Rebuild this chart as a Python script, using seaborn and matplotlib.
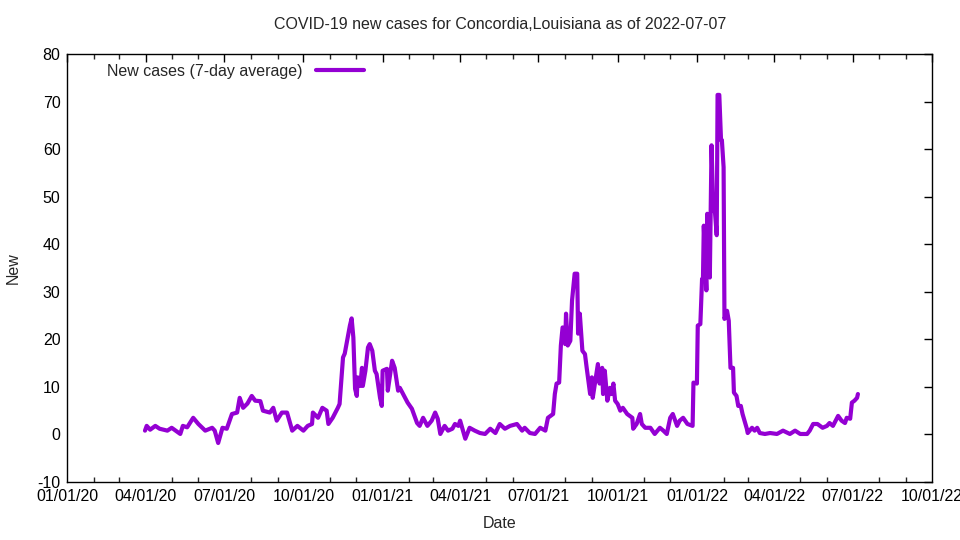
import numpy as np
import pandas as pd
import seaborn as sns
import matplotlib.pyplot as plt
import matplotlib.dates as mdates

# days since 2020-01-01 and the 7-day average
days = [90, 92, 96, 102, 107, 116, 121, 131, 134, 139, 146, 152, 160, 168, 171, 175,
        180, 185, 191, 197, 200, 204, 209, 214, 218, 224, 227, 235, 239, 243, 249, 255,
        261, 267, 274, 279, 284, 285, 291, 296, 301, 303, 308, 314, 316, 320, 322, 328,
        330, 332, 334, 336, 337, 340, 342, 343, 346, 349, 351, 354, 357, 359, 363, 365,
        366, 371, 372, 375, 377, 380, 384, 386, 392, 395, 400, 406, 409, 413, 418, 423,
        427, 430, 433, 438, 442, 447, 450, 454, 456, 462, 467, 473, 479, 485, 491, 497,
        502, 508, 514, 522, 528, 531, 537, 543, 549, 555, 558, 564, 566, 568, 571, 573,
        575, 578, 579, 581, 584, 586, 589, 592, 593, 595, 598, 601, 603, 607, 609, 610,
        613, 616, 618, 621, 622, 624, 627, 630, 632, 634, 636, 639, 642, 645, 650, 656,
        657, 661, 665, 667, 671, 677, 682, 688, 692, 696, 700, 703, 708, 711, 715, 720,
        726, 727, 731, 732, 735, 737, 738, 739, 742, 743, 746, 748, 750, 752, 754, 755,
        757, 759, 760, 762, 763, 766, 768, 770, 773, 774, 777, 779, 782, 784, 787, 789,
        790, 795, 798, 801, 804, 810, 816, 824, 831, 839, 845, 851, 859, 862, 866, 871,
        877, 882, 885, 889, 895, 899, 903, 905, 909, 911, 914, 917, 918]
cases = [0.8, 1.8, 1.0, 1.8, 1.2, 0.8, 1.4, 0.1, 1.8, 1.5, 3.5, 2.2, 0.8, 1.4, 0.8, -1.8,
         1.4, 1.2, 4.3, 4.6, 7.7, 5.6, 6.5, 8.1, 7.1, 7.0, 5.0, 4.6, 5.6, 2.9, 4.6, 4.6,
         0.8, 1.8, 0.8, 1.8, 2.2, 4.6, 3.5, 5.6, 5.0, 2.2, 3.5, 5.6, 6.4, 16.2, 17.0, 22.9,
         24.4, 20.4, 9.6, 8.1, 12.0, 10.2, 14.0, 10.2, 13.4, 18.3, 19.0, 17.6, 13.4, 12.7, 7.7, 6.0,
         13.4, 13.8, 9.2, 13.0, 15.5, 14.0, 9.2, 9.8, 7.7, 6.7, 5.4, 2.4, 1.8, 3.5, 1.8, 2.9,
         4.6, 3.3, 0.1, 1.8, 0.8, 1.2, 2.2, 1.8, 2.9, -0.9, 1.4, 0.8, 0.3, 0.1, 1.2, 0.3,
         2.2, 1.2, 1.8, 2.2, 0.8, 1.4, 0.3, 0.1, 1.4, 0.8, 3.5, 4.3, 8.5, 10.7, 10.9, 18.7,
         22.5, 19.0, 25.4, 18.7, 19.7, 28.2, 33.8, 33.8, 21.2, 25.4, 17.6, 16.9, 14.0, 8.5, 12.0, 7.7,
         11.3, 14.8, 10.7, 14.0, 8.5, 13.4, 7.1, 9.8, 8.5, 10.7, 7.1, 6.4, 5.0, 5.6, 4.3, 3.5,
         1.2, 2.2, 4.3, 2.2, 1.4, 1.4, 0.1, 1.4, 0.8, 0.1, 3.5, 4.3, 1.8, 2.9, 3.5, 2.2,
         1.8, 10.9, 10.7, 22.9, 23.2, 32.7, 32.3, 43.9, 30.3, 46.4, 33.0, 60.8, 47.1, 46.7, 41.9, 71.4,
         71.4, 61.9, 61.9, 56.2, 24.3, 26.0, 23.9, 14.0, 14.0, 8.8, 8.1, 6.0, 6.0, 4.3, 2.4, 1.2,
         0.3, 1.4, 0.8, 1.4, 0.3, 0.1, 0.3, 0.1, 0.8, 0.1, 0.8, 0.1, 0.1, 0.8, 2.2, 2.2,
         1.4, 1.8, 2.4, 1.8, 3.9, 2.9, 2.4, 3.5, 3.3, 6.7, 7.1, 7.7, 8.5]

x_ticks = pd.date_range('2020-01-01', '2022-10-01', freq='QS')
dates = pd.Timestamp('2020-01-01') + pd.to_timedelta(days, unit='D')
df = pd.DataFrame({'date': dates, 'new': cases})

sns.set_style('white')
plt.rcParams['font.family'] = ['Liberation Sans', 'DejaVu Sans']
plt.rcParams['axes.unicode_minus'] = False
fs = 11.5

fig = plt.figure(figsize=(9.6, 5.4), dpi=100)
ax = fig.add_axes([0.0703, 0.1074, 0.9005, 0.7926])

sns.lineplot(data=df, x='date', y='new', color='#9400d3', linewidth=3,
             label='New cases (7-day average)', ax=ax)

ax.set_xlim(x_ticks[0], x_ticks[-1])
ax.set_ylim(-10, 80)
ax.set_yticks(np.arange(-10, 81, 10))
ax.set_xticks(x_ticks)
ax.xaxis.set_major_formatter(mdates.DateFormatter('%m/%d/%y'))
ax.xaxis.set_minor_locator(mdates.MonthLocator())
ax.tick_params(which='major', direction='in', length=6, width=1, top=True, right=True,
               labelsize=fs, colors='black', pad=5)
ax.tick_params(which='minor', direction='in', length=3.5, width=1, top=True, bottom=True)
for s in ax.spines.values():
    s.set_color('black')
    s.set_linewidth(1)

ax.set_title('COVID-19 new cases for Concordia,Louisiana as of 2022-07-07', fontsize=fs, pad=18)
ax.set_xlabel('Date', fontsize=fs, labelpad=9)
ax.set_ylabel('New', fontsize=fs, labelpad=12)

ax.legend(loc='upper left', frameon=False, markerfirst=False, handlelength=3.0,
          fontsize=fs, bbox_to_anchor=(0.035, 1.0), borderaxespad=0.2)

fig.savefig('out.png', dpi=100)
